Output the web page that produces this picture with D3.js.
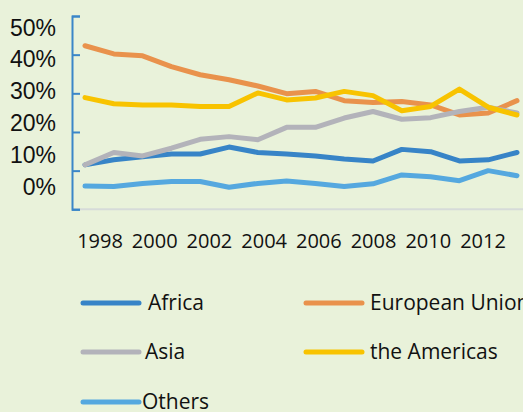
<!DOCTYPE html>
<html>
<head>
<meta charset="utf-8">
<script src="https://cdn.jsdelivr.net/npm/d3@7"></script>
<style>
  body { margin: 0; background: #e9f2da; }
  svg { display: block; }
</style>
</head>
<body>
<div id="chart"></div>
<script>
// data (shares, 1998-2013)
const years = d3.range(1998, 2014);
const yearLabels = [1998, 2000, 2002, 2004, 2006, 2008, 2010, 2012];
const yTicks = [0, 0.1, 0.2, 0.3, 0.4, 0.5];

const africa   = [11.5, 12.8, 13.6, 14.3, 14.3, 16.1, 14.7, 14.3, 13.8, 13.0, 12.5, 15.5, 14.9, 12.5, 12.8, 14.7];
const eu       = [42.3, 40.2, 39.7, 36.9, 34.8, 33.5, 31.9, 29.9, 30.5, 28.1, 27.6, 27.9, 27.0, 24.4, 24.9, 28.1];
const asia     = [11.5, 14.7, 13.8, 15.8, 18.1, 18.8, 18.0, 21.2, 21.2, 23.6, 25.3, 23.3, 23.7, 25.3, 26.4, 24.9];
const americas = [28.9, 27.3, 27.0, 27.0, 26.6, 26.6, 30.1, 28.3, 28.8, 30.5, 29.4, 25.5, 26.6, 31.1, 26.4, 24.4];
const others   = [6.0, 5.9, 6.7, 7.2, 7.2, 5.7, 6.7, 7.3, 6.7, 5.9, 6.6, 8.9, 8.4, 7.4, 10.0, 8.7];

const seriesNames = ["Africa", "European Union", "Asia", "the Americas", "Others"];
const seriesValues = [africa, eu, asia, americas, others];
const seriesColors = ["#3784c7", "#e9924c", "#b3b3ba", "#f8c300", "#55a8df"];

const width = 523, height = 412;

const svg = d3.select("#chart").append("svg")
    .attr("width", width)
    .attr("height", height);

svg.append("rect")
    .attr("width", width)
    .attr("height", height)
    .attr("fill", "#e9f2da");

const x = d3.scaleLinear().domain([1998, 2013]).range([85, 517]);
const y = d3.scaleLinear().domain([0, 0.5]).range([209.3, 16]);

// labels in the original sit on their own spacing
const xLabel = d3.scaleLinear().domain([1998, 2012]).range([100, 483]);
const yLabel = d3.scaleLinear().domain([0, 0.5]).range([194.5, 35.5]);

// bottom axis line
svg.append("line")
    .attr("x1", 72).attr("x2", width)
    .attr("y1", y(0)).attr("y2", y(0))
    .attr("stroke", "#d6dbd9")
    .attr("stroke-width", 2);

// left axis with inward ticks
const yAxis = svg.append("g")
    .attr("transform", "translate(72,0)")
    .call(d3.axisRight(y).tickValues(yTicks).tickSize(8).tickFormat(""));
yAxis.select(".domain").attr("stroke", "#3a86c8").attr("stroke-width", 2);
yAxis.selectAll(".tick line").attr("stroke", "#3a86c8").attr("stroke-width", 2);

// y labels
svg.selectAll(".ylab")
    .data(yTicks)
    .enter().append("text")
    .attr("class", "ylab")
    .attr("x", 56)
    .attr("y", d => yLabel(d))
    .attr("text-anchor", "end")
    .attr("font-family", "Liberation Sans, Arial, sans-serif")
    .attr("font-size", 23)
    .attr("fill", "#111")
    .text(d => d3.format(".0%")(d));

// x labels
svg.selectAll(".xlab")
    .data(yearLabels)
    .enter().append("text")
    .attr("class", "xlab")
    .attr("x", d => xLabel(d))
    .attr("y", 248)
    .attr("text-anchor", "middle")
    .attr("font-family", "Open Sans, sans-serif")
    .attr("font-size", 20)
    .attr("fill", "#111")
    .text(d => d);

// lines
const line = d3.line()
    .x((d, i) => x(years[i]))
    .y(d => y(d / 100));

seriesValues.forEach((vals, idx) => {
    svg.append("path")
        .datum(vals)
        .attr("d", line)
        .attr("fill", "none")
        .attr("stroke", seriesColors[idx])
        .attr("stroke-width", 5)
        .attr("stroke-linejoin", "round")
        .attr("stroke-linecap", "round");
});

// legend
const legendPos = [
    {sx: 83, tx: 148, y: 303},
    {sx: 306, tx: 370, y: 303},
    {sx: 83, tx: 145, y: 352},
    {sx: 306, tx: 370, y: 352},
    {sx: 83, tx: 142, y: 402}
];

seriesNames.forEach((name, idx) => {
    const p = legendPos[idx];
    svg.append("line")
        .attr("x1", p.sx).attr("x2", p.sx + 56)
        .attr("y1", p.y).attr("y2", p.y)
        .attr("stroke", seriesColors[idx])
        .attr("stroke-width", 5)
        .attr("stroke-linecap", "round");
    svg.append("text")
        .attr("x", p.tx)
        .attr("y", p.y + 7)
        .attr("font-family", "Open Sans, sans-serif")
        .attr("font-size", 21)
        .attr("fill", "#111")
        .text(name);
});
</script>
</body>
</html>
